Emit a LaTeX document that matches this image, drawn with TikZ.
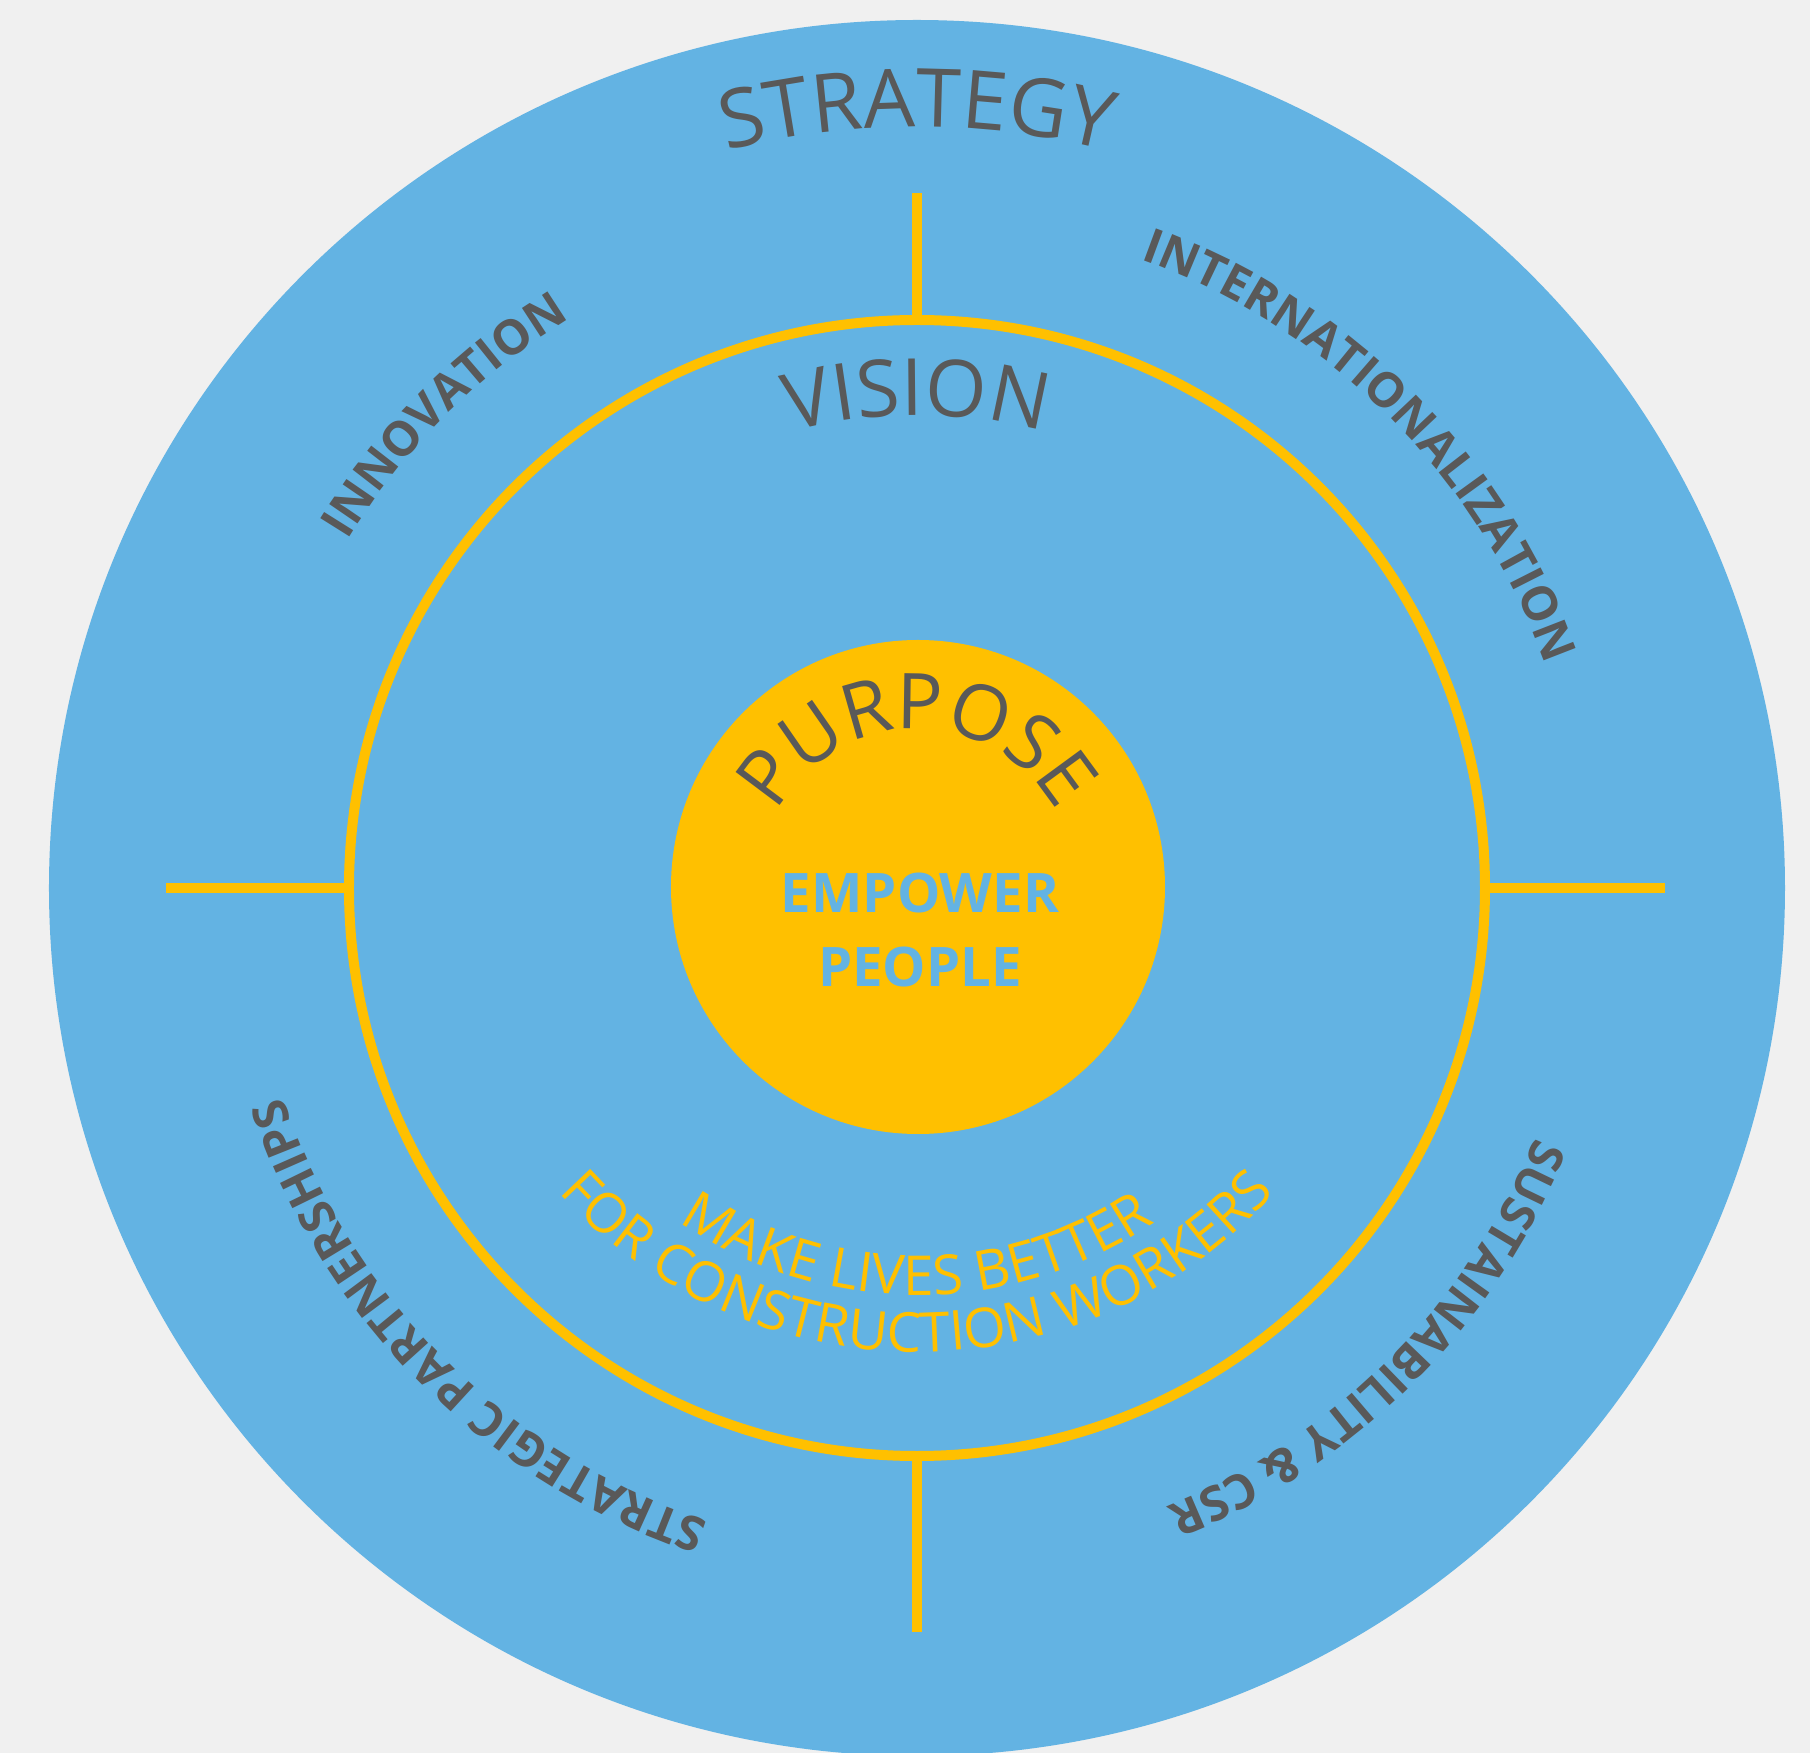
\documentclass[tikz,border=0pt]{standalone}
\usepackage{fontspec}
\setmainfont{Open Sans}
\usetikzlibrary{decorations.text}

\definecolor{skyblue}{HTML}{63B3E3}
\definecolor{sun}{HTML}{FFC000}
\definecolor{slate}{HTML}{595959}
\definecolor{paper}{HTML}{F0F0F0}

% font switches for the different text levels
\newcommand\fTitle{\fontsize{81}{97}\selectfont}
\newcommand\fVision{\fontsize{79}{95}\selectfont}
\newcommand\fPurpose{\fontsize{77}{92}\selectfont}
\newcommand\fPillar{\fontsize{48}{58}\selectfont\bfseries}
\newcommand\fMission{\fontsize{55}{66}\selectfont}
\newcommand\fCore{\fontsize{54.5}{66}\selectfont\bfseries}

\begin{document}
\begin{tikzpicture}[x=1pt,y=1pt,
  ring/.style={circle, inner sep=0pt, outer sep=0pt},
  spoke/.style={draw=sun, line width=10pt},
  titletext/.style={decorate, decoration={text along path, text align=center,
      text color=slate, text={|\fTitle|#1}}},
  visiontext/.style={decorate, decoration={text along path, text align=center,
      text color=slate, text={|\fVision|#1}}},
  purposetext/.style={decorate, decoration={text along path, text align=center,
      text color=slate, text={|\fPurpose|#1}}},
  pillartext/.style={decorate, decoration={text along path, text align=center,
      text color=slate, text={|\fPillar|#1}}},
  missiontext/.style={decorate, decoration={text along path, text align=center,
      text color=sun, text={|\fMission|#1}}},
  coretext/.style={anchor=base, inner sep=0pt, text=skyblue, font=\fCore}
]
\useasboundingbox (-917,-865) rectangle (893,888);
\fill[paper] (-917,-865) rectangle (893,888);
\clip (-917,-865) rectangle (893,888);

% the three rings
\node[ring, fill=skyblue, minimum size=1736pt] (strategy) at (0,0) {};
\node[ring, draw=sun, line width=10pt, minimum size=1136pt] (vision) at (0,0) {};
\node[ring, fill=sun, minimum size=494pt] (purpose) at (1,1) {};

% spokes dividing the strategy ring into four pillars
\coordinate (topEnd) at (0,695);
\coordinate (bottomEnd) at (0,-744);
\coordinate (leftEnd) at (-751,0);
\coordinate (rightEnd) at (748,0);
\draw[spoke] (vision.north) -- (topEnd);
\draw[spoke] (vision.south) -- (bottomEnd);
\draw[spoke] (vision.west) -- (leftEnd);
\draw[spoke] (vision.east) -- (rightEnd);

% ring titles
\path[titletext=STRATEGY] (130:761) arc[start angle=130, end angle=50, radius=761];
\path[visiontext=VISION] (130:473) arc[start angle=130, end angle=50, radius=473];
\path[purposetext=PURPOSE] (180:159) arc[start angle=180, end angle=0, radius=159];

% strategic pillars
\path[pillartext=INNOVATION] (180:667) arc[start angle=180, end angle=90, radius=667];
\path[pillartext=INTERNATIONALIZATION] (90:667) arc[start angle=90, end angle=0, radius=667];
\path[pillartext={SUSTAINABILITY {\&} CSR}] (0:667) arc[start angle=0, end angle=-90, radius=667];
\path[pillartext={STRATEGIC PARTNERSHIPS}] (270:667) arc[start angle=270, end angle=180, radius=667];

% vision statement, on a slightly flatter arc
\coordinate (missionc) at (0,18);
\path[missiontext={MAKE LIVES BETTER}] ([shift={(missionc)}]205:425) arc[start angle=205, end angle=335, radius=425];
\path[missiontext={FOR CONSTRUCTION WORKERS}] ([shift={(missionc)}]205:482) arc[start angle=205, end angle=335, radius=482];

% purpose statement
\node[coretext] (empower) at (3,-25) {EMPOWER};
\node[coretext] (people) at (3,-99) {PEOPLE};
\end{tikzpicture}
\end{document}
